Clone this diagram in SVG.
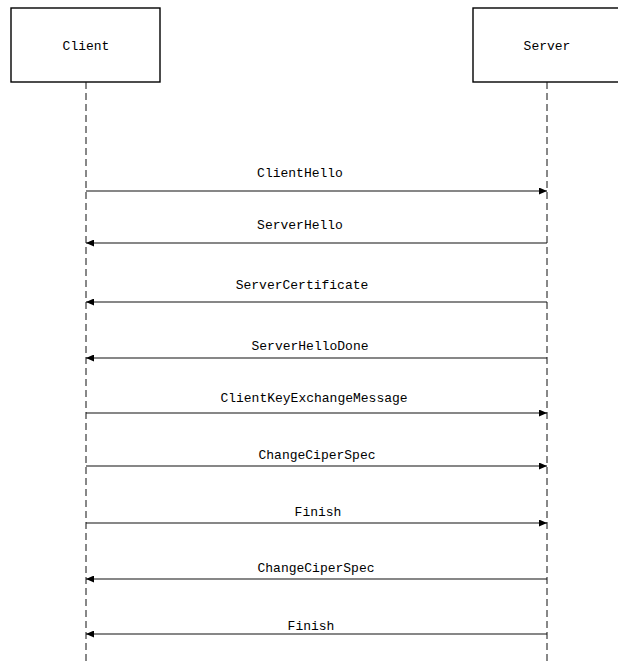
<svg xmlns="http://www.w3.org/2000/svg" width="618" height="662" viewBox="0 0 618 662">
<style>
.box{fill:#fff;stroke:#000;stroke-width:1.4}
.life{stroke:#111;stroke-width:1;stroke-dasharray:7,4;fill:none}
.msg{stroke:#111;stroke-width:1.1;fill:none}
text{font-family:"Liberation Mono","Noto Sans CJK SC",monospace;font-size:13px;fill:#000;text-anchor:middle}
</style>
<defs>
<marker id="ah" markerWidth="8" markerHeight="7" refX="8" refY="3.5" orient="auto" markerUnits="userSpaceOnUse">
<path d="M0,0 L8,3.5 L0,7 Z" fill="#000"/>
</marker>
</defs>
<rect width="618" height="662" fill="#fff"/>
<g id="client">
<rect class="box" x="11" y="8" width="149" height="74"/>
<text x="86" y="50">Client</text>
</g>
<g id="server">
<rect class="box" x="473" y="8" width="150" height="74"/>
<text x="547" y="50">Server</text>
</g>
<g id="connectors">
<line class="life" x1="86" y1="82" x2="86" y2="662"/>
<line class="life" x1="547" y1="82" x2="547" y2="662"/>
<line class="msg" x1="86" y1="191" x2="547" y2="191" marker-end="url(#ah)"/>
<text x="300" y="177">ClientHello</text>
<line class="msg" x1="547" y1="243" x2="86" y2="243" marker-end="url(#ah)"/>
<text x="300" y="229">ServerHello</text>
<line class="msg" x1="547" y1="302" x2="86" y2="302" marker-end="url(#ah)"/>
<text x="302" y="289">ServerCertificate</text>
<line class="msg" x1="547" y1="358" x2="86" y2="358" marker-end="url(#ah)"/>
<text x="310" y="350">ServerHelloDone</text>
<line class="msg" x1="86" y1="413" x2="547" y2="413" marker-end="url(#ah)"/>
<text x="314" y="402">ClientKeyExchangeMessage</text>
<line class="msg" x1="86" y1="466" x2="547" y2="466" marker-end="url(#ah)"/>
<text x="317" y="459">ChangeCiperSpec</text>
<line class="msg" x1="86" y1="523" x2="547" y2="523" marker-end="url(#ah)"/>
<text x="318" y="516">Finish</text>
<line class="msg" x1="547" y1="579" x2="86" y2="579" marker-end="url(#ah)"/>
<text x="316" y="572">ChangeCiperSpec</text>
<line class="msg" x1="547" y1="634" x2="86" y2="634" marker-end="url(#ah)"/>
<text x="311" y="630">Finish</text>
</g>
</svg>
